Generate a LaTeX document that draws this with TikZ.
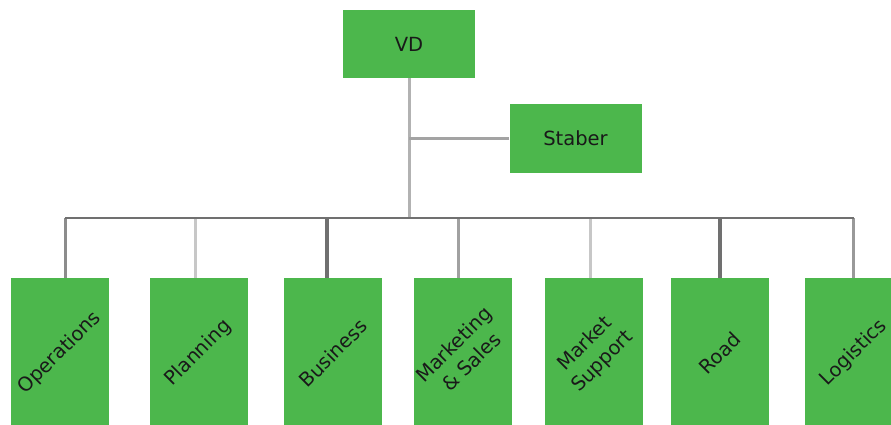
\documentclass[tikz,border=0pt]{standalone}
\usepackage{fontspec}
\setmainfont{DejaVu Sans}
\usepackage{tikz}
\usetikzlibrary{positioning}
\definecolor{boxgreen}{RGB}{76,183,76}
\tikzset{unit/.style = {fill=boxgreen, draw=none, minimum width=132, minimum height=68, inner sep=0, font=\fontsize{19.5}{22}\selectfont, text=black!90}}
\tikzset{dept/.style = {fill=boxgreen, draw=none, minimum width=98, minimum height=150, inner sep=0}}
\tikzset{deptlabel/.style = {rotate=45, align=center, inner sep=0, font=\fontsize{19.5}{25}\selectfont, text=black!90}}
\tikzset{bus/.style = {line width=2.5, black!56}}

\begin{document}
\begin{tikzpicture}[x=1pt, y=-1pt]
    \useasboundingbox (0,0) rectangle (891,425);
    \node[unit] (vd) at (409,44) {VD};
    \node[unit] (staber) at (575.5,138.5) {Staber};
    \coordinate (busl) at (65,218);
    \coordinate (busr) at (854,218);
    \draw[line width=3, black!30] (vd.south) -- (vd.south |- busl);
    \draw[line width=2.5, black!36] (staber.west) -- (staber.west -| vd.south);
    \foreach \n/\bx/\dx/\tint/\lw/\txt in {ops/60/65/45/3/Operations, plan/198.5/195/22/3/Planning,
        bus/333/327/56/3.5/Business, mark/462.5/458/37/3/{Marketing\\\& Sales},
        msup/594/590/22/3/{Market\\Support}, road/720/720/56/3.5/Road, log/854/853/40/3/Logistics} {
        \node[dept] (\n) at (\bx,353) {};
        \node[deptlabel] (\n-t) at (\n) {\txt};
        \coordinate (\n-d) at (\dx,218);
        \draw[line width=\lw, black!\tint] (\n-d) -- (\n-d |- \n.north); % drop line
    }
    \draw[bus] (busl) -- (busr);
\end{tikzpicture}
\end{document}
